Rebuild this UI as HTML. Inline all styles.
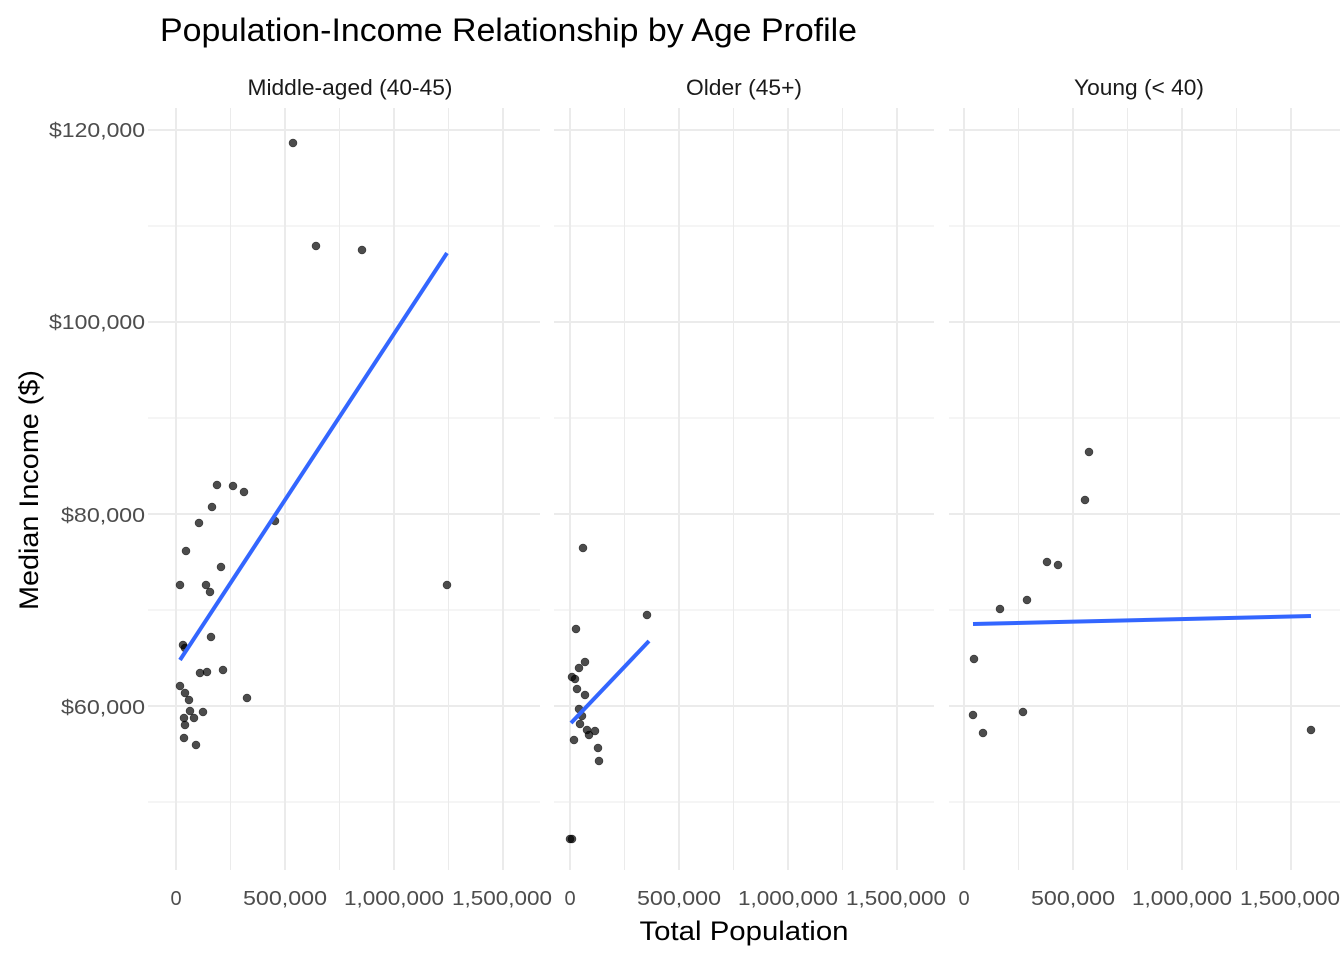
<!DOCTYPE html>
<html><head><meta charset="utf-8"><style>body{margin:0;background:#fff}svg{display:block}</style></head><body>
<svg width="1344" height="960" xmlns="http://www.w3.org/2000/svg" font-family="Liberation Sans, sans-serif">
<rect width="1344" height="960" fill="#fff"/>
<text x="160" y="41" font-size="32" fill="#000" textLength="697" lengthAdjust="spacingAndGlyphs">Population-Income Relationship by Age Profile</text>
<g font-size="22" fill="#1a1a1a" text-anchor="middle">
<text x="350" y="95" textLength="205" lengthAdjust="spacingAndGlyphs">Middle-aged (40-45)</text>
<text x="744" y="95" textLength="116" lengthAdjust="spacingAndGlyphs">Older (45+)</text>
<text x="1139" y="95" textLength="130" lengthAdjust="spacingAndGlyphs">Young (&lt; 40)</text>
</g>
<g id="grid" stroke="#ebebeb">
<g stroke-width="1">
<path d="M148 226H540M148 418H540M148 610H540M148 802H540M554 226H934M554 418H934M554 610H934M554 802H934M949 226H1340M949 418H1340M949 610H1340M949 802H1340"/>
<path d="M230.5 108V870M339.5 108V870M448.5 108V870M624.5 108V870M733.5 108V870M842.5 108V870M1018.5 108V870M1127.5 108V870M1236.5 108V870"/>
</g>
<g stroke-width="2">
<path d="M148 130H540M148 322H540M148 514H540M148 706H540M554 130H934M554 322H934M554 514H934M554 706H934M949 130H1340M949 322H1340M949 514H1340M949 706H1340"/>
<path d="M176 108V870M285 108V870M394 108V870M503 108V870M570 108V870M679 108V870M788 108V870M897 108V870M964 108V870M1073 108V870M1182 108V870M1291 108V870"/>
</g>
</g>
<g fill="#000" fill-opacity="0.7" stroke="#000" stroke-opacity="0.7" stroke-width="0.5">
<circle cx="293" cy="143" r="4"/><circle cx="316" cy="246" r="4"/><circle cx="362" cy="250" r="4"/>
<circle cx="217" cy="485" r="4"/><circle cx="233" cy="486" r="4"/><circle cx="244" cy="492" r="4"/>
<circle cx="212" cy="507" r="4"/><circle cx="199" cy="523" r="4"/><circle cx="275" cy="521" r="4"/>
<circle cx="186" cy="551" r="4"/><circle cx="221" cy="567" r="4"/><circle cx="180" cy="585" r="4"/>
<circle cx="206" cy="585" r="4"/><circle cx="210" cy="592" r="4"/><circle cx="447" cy="585" r="4"/>
<circle cx="183" cy="645" r="4"/><circle cx="185" cy="648" r="4"/><circle cx="211" cy="637" r="4"/>
<circle cx="223" cy="670" r="4"/><circle cx="200" cy="673" r="4"/><circle cx="207" cy="672" r="4"/>
<circle cx="180" cy="686" r="4"/><circle cx="185" cy="693" r="4"/><circle cx="189" cy="700" r="4"/>
<circle cx="247" cy="698" r="4"/><circle cx="190" cy="711" r="4"/><circle cx="203" cy="712" r="4"/>
<circle cx="184" cy="718" r="4"/><circle cx="194" cy="718" r="4"/><circle cx="185" cy="725" r="4"/>
<circle cx="184" cy="738" r="4"/><circle cx="196" cy="745" r="4"/>
<circle cx="583" cy="548" r="4"/><circle cx="647" cy="615" r="4"/><circle cx="576" cy="629" r="4"/>
<circle cx="585" cy="662" r="4"/><circle cx="579" cy="668" r="4"/><circle cx="572" cy="677" r="4"/>
<circle cx="575" cy="679" r="4"/><circle cx="577" cy="689" r="4"/><circle cx="585" cy="695" r="4"/>
<circle cx="579" cy="709" r="4"/><circle cx="582" cy="716" r="4"/><circle cx="580" cy="724" r="4"/>
<circle cx="587" cy="730" r="4"/><circle cx="595" cy="731" r="4"/><circle cx="589" cy="735" r="4"/>
<circle cx="574" cy="740" r="4"/><circle cx="598" cy="748" r="4"/><circle cx="599" cy="761" r="4"/>
<circle cx="570" cy="839" r="4"/><circle cx="572" cy="839" r="4"/>
<circle cx="1089" cy="452" r="4"/><circle cx="1085" cy="500" r="4"/><circle cx="1047" cy="562" r="4"/>
<circle cx="1058" cy="565" r="4"/><circle cx="1027" cy="600" r="4"/><circle cx="1000" cy="609" r="4"/>
<circle cx="974" cy="659" r="4"/><circle cx="1023" cy="712" r="4"/><circle cx="973" cy="715" r="4"/>
<circle cx="983" cy="733" r="4"/><circle cx="1311" cy="730" r="4"/>
</g>
<g stroke="#3366ff" stroke-width="4" fill="none">
<line x1="180" y1="660" x2="447" y2="253"/>
<line x1="571" y1="723" x2="649" y2="641"/>
<line x1="973" y1="624" x2="1311" y2="616"/>
</g>
<g font-size="20" fill="#4d4d4d" text-anchor="end">
<text x="145" y="137" textLength="96" lengthAdjust="spacingAndGlyphs">$120,000</text><text x="145" y="329" textLength="96" lengthAdjust="spacingAndGlyphs">$100,000</text>
<text x="145" y="522" textLength="84" lengthAdjust="spacingAndGlyphs">$80,000</text><text x="145" y="714" textLength="84" lengthAdjust="spacingAndGlyphs">$60,000</text>
</g>
<g font-size="20" fill="#4d4d4d" text-anchor="middle">
<text x="176" y="905">0</text><text x="285" y="905" textLength="84" lengthAdjust="spacingAndGlyphs">500,000</text><text x="394" y="905" textLength="100" lengthAdjust="spacingAndGlyphs">1,000,000</text><text x="502" y="905" textLength="100" lengthAdjust="spacingAndGlyphs">1,500,000</text>
<text x="570" y="905">0</text><text x="679" y="905" textLength="84" lengthAdjust="spacingAndGlyphs">500,000</text><text x="788" y="905" textLength="100" lengthAdjust="spacingAndGlyphs">1,000,000</text><text x="896" y="905" textLength="100" lengthAdjust="spacingAndGlyphs">1,500,000</text>
<text x="964" y="905">0</text><text x="1073" y="905" textLength="84" lengthAdjust="spacingAndGlyphs">500,000</text><text x="1182" y="905" textLength="100" lengthAdjust="spacingAndGlyphs">1,000,000</text><text x="1290" y="905" textLength="100" lengthAdjust="spacingAndGlyphs">1,500,000</text>
</g>
<text x="744" y="940" font-size="27" text-anchor="middle" fill="#000" textLength="209" lengthAdjust="spacingAndGlyphs">Total Population</text>
<text transform="translate(38,490) rotate(-90)" font-size="27" text-anchor="middle" fill="#000" textLength="240" lengthAdjust="spacingAndGlyphs">Median Income ($)</text>
</svg>
</body></html>
